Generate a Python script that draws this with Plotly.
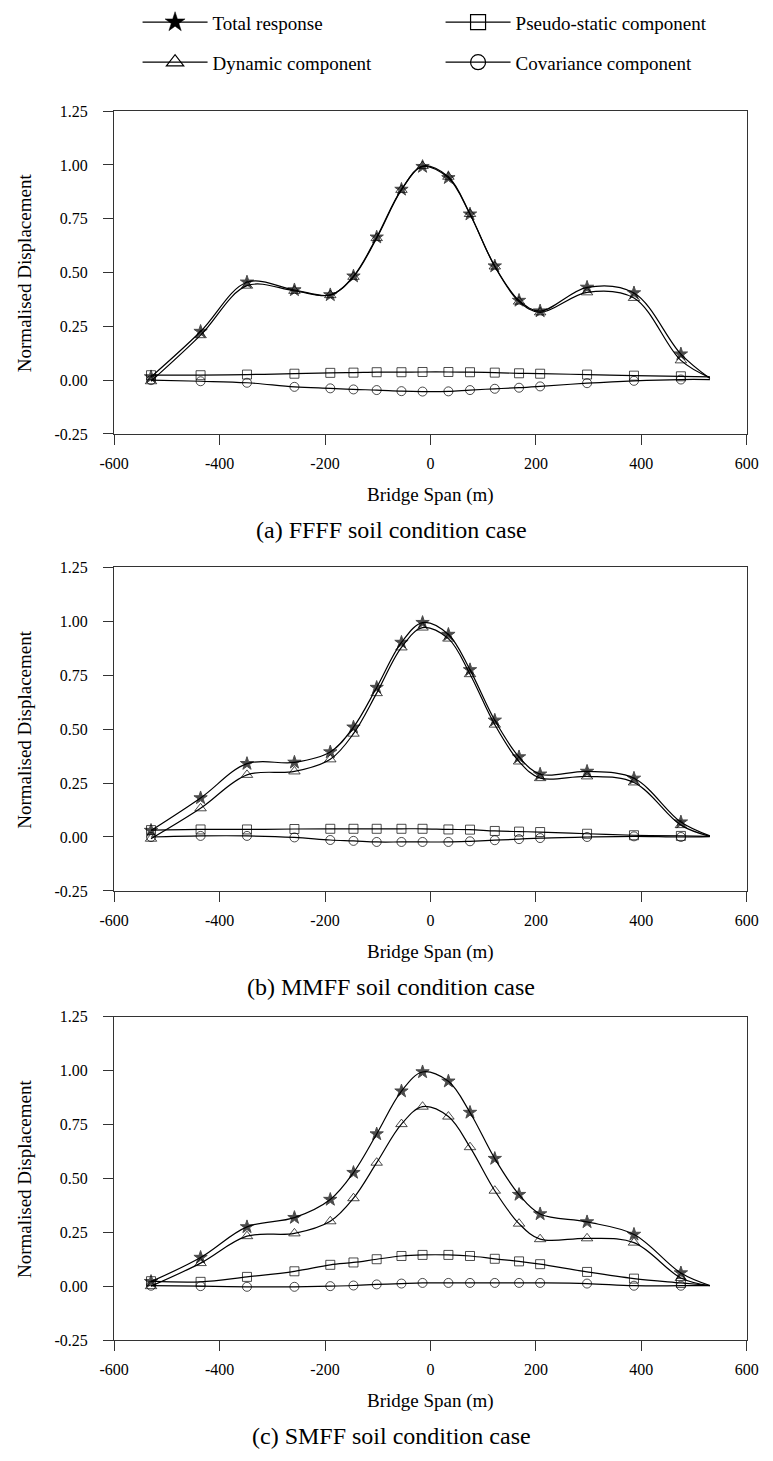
import plotly.graph_objects as go

# ---------------- data ----------------
span_x = [-530, -436, -348, -258, -190, -146, -102, -55, -15, 34, 75, 122, 168, 208, 297, 386, 475, 530]

# (a) FFFF
a_total = [0.015, 0.226, 0.455, 0.419, 0.396, 0.483, 0.664, 0.886, 0.992, 0.940, 0.771, 0.530, 0.370, 0.321, 0.431, 0.405, 0.121, 0.008]
a_dynamic = [-0.005, 0.209, 0.439, 0.415, 0.395, 0.480, 0.660, 0.884, 0.995, 0.945, 0.772, 0.528, 0.365, 0.315, 0.408, 0.382, 0.092, 0.012]
a_pseudo = [0.023, 0.023, 0.026, 0.030, 0.034, 0.035, 0.037, 0.037, 0.038, 0.038, 0.037, 0.035, 0.032, 0.030, 0.026, 0.021, 0.018, 0.015]
a_cov = [0.0, -0.005, -0.012, -0.031, -0.038, -0.043, -0.046, -0.051, -0.053, -0.052, -0.046, -0.040, -0.035, -0.029, -0.014, -0.003, 0.003, 0.003]

# (b) MMFF
b_total = [0.030, 0.181, 0.340, 0.346, 0.394, 0.509, 0.693, 0.902, 0.994, 0.939, 0.775, 0.541, 0.371, 0.291, 0.304, 0.272, 0.069, 0.005]
b_dynamic = [-0.008, 0.133, 0.288, 0.304, 0.360, 0.479, 0.667, 0.879, 0.971, 0.920, 0.755, 0.521, 0.350, 0.273, 0.281, 0.253, 0.055, 0.003]
b_pseudo = [0.032, 0.035, 0.035, 0.037, 0.038, 0.038, 0.038, 0.038, 0.038, 0.035, 0.034, 0.028, 0.025, 0.023, 0.015, 0.008, 0.005, 0.003]
b_cov = [0.0, 0.005, 0.005, -0.002, -0.014, -0.018, -0.023, -0.023, -0.023, -0.023, -0.020, -0.015, -0.010, -0.005, 0.0, 0.003, 0.0, 0.002]

# (c) SMFF
c_total = [0.021, 0.133, 0.275, 0.318, 0.402, 0.527, 0.706, 0.905, 0.994, 0.951, 0.806, 0.592, 0.425, 0.335, 0.298, 0.240, 0.061, 0.003]
c_dynamic = [0.0, 0.107, 0.232, 0.245, 0.301, 0.408, 0.573, 0.752, 0.833, 0.787, 0.645, 0.443, 0.290, 0.218, 0.222, 0.202, 0.038, 0.002]
c_pseudo = [0.023, 0.020, 0.043, 0.069, 0.099, 0.110, 0.125, 0.140, 0.145, 0.145, 0.140, 0.127, 0.115, 0.102, 0.066, 0.035, 0.015, 0.003]
c_cov = [0.002, 0.0, -0.003, -0.003, 0.0, 0.003, 0.008, 0.012, 0.015, 0.015, 0.015, 0.015, 0.015, 0.015, 0.012, 0.002, 0.002, 0.002]

series_names = ["Total response", "Dynamic component", "Pseudo-static component", "Covariance component"]
panel_captions = ["(a) FFFF soil condition case", "(b) MMFF soil condition case", "(c) SMFF soil condition case"]
x_tick_vals = [-600, -400, -200, 0, 200, 400, 600]
x_tick_text = ["-600", "-400", "-200", "0", "200", "400", "600"]
y_tick_vals = [-0.25, 0.0, 0.25, 0.5, 0.75, 1.0, 1.25]
y_tick_text = ["-0.25", "0.00", "0.25", "0.50", "0.75", "1.00", "1.25"]
x_title = "Bridge Span (m)"
y_title = "Normalised Displacement"

panels = [
    [a_total, a_dynamic, a_pseudo, a_cov],
    [b_total, b_dynamic, b_pseudo, b_cov],
    [c_total, c_dynamic, c_pseudo, c_cov],
]

# ---------------- layout geometry (pixels) ----------------
W, H = 773, 1461
FONT = "Liberation Serif, Times New Roman, serif"
left_px, right_px = 102.7, 758.3
tops_px = [104.3, 566.0, 1020.7]
bottoms_px = [431.0, 893.3, 1347.7]

def py(p):
    return 1 - p / H

symbols = ["star", "triangle-up-open", "square-open", "circle-open"]
plot_sizes = [10, 10, 9, 9]
marker_line_colors = ["black", "#222", "#444", "#222"]
marker_line_widths = [1.0, 1.0, 1.0, 1.0]

fig = go.Figure()
n_pts = len(span_x)
for pi, series in enumerate(panels):
    xa = "x" if pi == 0 else f"x{pi+1}"
    ya = "y" if pi == 0 else f"y{pi+1}"
    for si in [1, 2, 3, 0]:
        vals = series[si]
        sizes = [plot_sizes[si]] * (n_pts - 1) + [0]
        fig.add_trace(go.Scatter(
            x=span_x, y=vals, xaxis=xa, yaxis=ya,
            mode="lines+markers",
            line=dict(color="black", width=1.2, shape="spline", smoothing=1.0),
            marker=dict(symbol=symbols[si], size=sizes, color="black",
                        line=dict(color=marker_line_colors[si], width=marker_line_widths[si])),
            showlegend=False, hoverinfo="skip",
        ))

# legend-only entries
legend_rows = {0: "legend", 2: "legend", 1: "legend2", 3: "legend2"}
for si in [0, 2, 1, 3]:
    fig.add_trace(go.Scatter(
        x=[None], y=[None], mode="lines+markers", name=series_names[si],
        line=dict(color="black", width=1.2),
        marker=dict(symbol=symbols[si], size=15, color="black",
                    line=dict(color="black", width=1.2 if si else 0.5)),
        legend=legend_rows[si], showlegend=True,
    ))

axis_common = dict(showline=True, linecolor="#333", linewidth=1.3, mirror=True,
                   ticks="outside", ticklen=10, tickwidth=1.3, tickcolor="#333",
                   showgrid=False, zeroline=False,
                   tickfont=dict(family=FONT, size=16, color="black"))

annotations = []
for pi in range(3):
    xkey = "xaxis" if pi == 0 else f"xaxis{pi+1}"
    ykey = "yaxis" if pi == 0 else f"yaxis{pi+1}"
    yname = "y" if pi == 0 else f"y{pi+1}"
    xname = "x" if pi == 0 else f"x{pi+1}"
    fig.layout[xkey] = dict(axis_common, domain=[left_px / W, right_px / W], anchor=yname,
                            range=[-600, 600], tickvals=x_tick_vals, ticktext=x_tick_text,
                            ticklabelstandoff=5)
    fig.layout[ykey] = dict(axis_common, domain=[py(bottoms_px[pi]), py(tops_px[pi])], anchor=xname,
                            range=[-0.25, 1.25], tickvals=y_tick_vals, ticktext=y_tick_text,
                            ticklabelstandoff=12)
    mid_y = (tops_px[pi] + bottoms_px[pi]) / 2
    annotations.append(dict(text=y_title, xref="paper", yref="paper", x=10 / W, y=py(mid_y),
                            textangle=-90, showarrow=False, xanchor="center", yanchor="middle",
                            font=dict(family=FONT, size=19, color="black")))
    annotations.append(dict(text=x_title, xref="paper", yref="paper", x=431 / W,
                            y=py(bottoms_px[pi] + 62), showarrow=False,
                            xanchor="center", yanchor="middle",
                            font=dict(family=FONT, size=19, color="black")))
    annotations.append(dict(text=panel_captions[pi], xref="paper", yref="paper", x=390 / W,
                            y=py(bottoms_px[pi] + 97), showarrow=False,
                            xanchor="center", yanchor="middle",
                            font=dict(family=FONT, size=24, color="black")))

legend_common = dict(orientation="h", xanchor="left", yanchor="middle", x=127 / W,
                     entrywidth=223, entrywidthmode="pixels", itemwidth=65,
                     font=dict(family=FONT, size=19, color="black"),
                     bgcolor="rgba(0,0,0,0)", borderwidth=0, traceorder="normal")

fig.update_layout(
    width=W, height=H,
    margin=dict(l=0, r=0, t=0, b=0),
    paper_bgcolor="white", plot_bgcolor="white",
    annotations=annotations,
    legend=dict(legend_common, y=py(14.5)),
    legend2=dict(legend_common, y=py(55)),
)

fig.write_html("out.html")
